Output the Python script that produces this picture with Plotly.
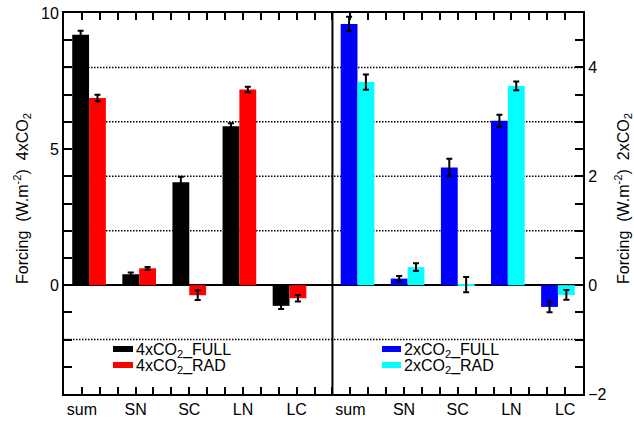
import plotly.graph_objects as go

# ---------------- data ----------------
categories = ["sum", "SN", "SC", "LN", "LC"]

full_4x = [9.2, 0.40, 3.78, 5.84, -0.76]
full_4x_err = [0.15, 0.06, 0.20, 0.11, 0.12]
rad_4x = [6.88, 0.62, -0.37, 7.19, -0.48]
rad_4x_err = [0.12, 0.05, 0.18, 0.10, 0.12]

full_2x = [4.80, 0.12, 2.16, 3.02, -0.40]
full_2x_err = [0.13, 0.05, 0.16, 0.11, 0.10]
rad_2x = [3.73, 0.33, 0.01, 3.66, -0.18]
rad_2x_err = [0.14, 0.07, 0.14, 0.08, 0.09]

series_names = ["4xCO<sub>2</sub>_FULL", "4xCO<sub>2</sub>_RAD",
                "2xCO<sub>2</sub>_FULL", "2xCO<sub>2</sub>_RAD"]
left_ticks = [0, 5, 10]
right_ticks = [-2, 0, 2, 4]
grid_values = [-2, 2, 4, 6, 8]
left_title = "Forcing  (W.m<sup>-2</sup>)  4xCO<sub>2</sub>"
right_title = "Forcing  (W.m<sup>-2</sup>)  2xCO<sub>2</sub>"

# ---------------- layout helpers ----------------
FONT = "Liberation Sans, Arial, Helvetica, sans-serif"
W, H = 634, 423
ML, MR, MT, MB = 64, 51, 13, 29
PW, PH = W - ML - MR, H - MT - MB


def px_x(p):
    return (p - ML) / PW


def px_y(p):
    return (H - MB - p) / PH


n = len(categories)
pitch = 2.8
bar_w = 0.94
left_centers = [1.4 + pitch * i for i in range(n)]
right_centers = [16.4 + pitch * i for i in range(n)]
label_pos = [1 + 3 * i for i in range(n)] + [16 + 3 * i for i in range(n)]

colors = ["#000000", "#ff0000", "#0000ff", "#00ffff"]

fig = go.Figure()


def add_bars(centers, vals, errs, offset, color, yaxis, name):
    fig.add_trace(go.Bar(
        x=[c + offset for c in centers], y=vals, width=bar_w, name=name,
        marker=dict(color=color, line=dict(width=0)),
        error_y=dict(type="data", array=errs, visible=True,
                     color="black", thickness=2, width=3),
        yaxis=yaxis, showlegend=False))


add_bars(left_centers, full_4x, full_4x_err, -bar_w / 2, colors[0], "y", series_names[0])
add_bars(left_centers, rad_4x, rad_4x_err, bar_w / 2, colors[1], "y", series_names[1])
add_bars(right_centers, full_2x, full_2x_err, -bar_w / 2, colors[2], "y2", series_names[2])
add_bars(right_centers, rad_2x, rad_2x_err, bar_w / 2, colors[3], "y2", series_names[3])

# invisible trace so the top tick axis is drawn
fig.add_trace(go.Scatter(x=[None], y=[None], xaxis="x2", yaxis="y",
                         showlegend=False, hoverinfo="skip"))

tick_font = dict(family=FONT, size=16, color="black")
tk = dict(ticklen=7, tickwidth=1.5, tickcolor="black")

shapes = []
# dotted reference lines
for g in grid_values:
    shapes.append(dict(type="line", xref="paper", yref="y", x0=0, x1=1,
                       y0=g, y1=g, layer="below",
                       line=dict(color="black", width=1.5, dash="1.5px,1.5px")))
# panel divider
shapes.append(dict(type="line", xref="x", yref="paper", x0=15, x1=15,
                   y0=0, y1=1, line=dict(color="black", width=2),
                   layer="above"))

annotations = [
    dict(text=left_title, xref="paper", yref="paper", x=px_x(22), y=px_y(199),
         textangle=-90, showarrow=False, xanchor="center", yanchor="middle",
         font=dict(family=FONT, size=16, color="black")),
    dict(text=right_title, xref="paper", yref="paper", x=px_x(623), y=px_y(199),
         textangle=-90, showarrow=False, xanchor="center", yanchor="middle",
         font=dict(family=FONT, size=16, color="black")),
]

# manual legends
legend_rows = [349, 365]
legend_specs = [(113, 133, 134, [0, 1]), (382, 401, 402, [2, 3])]
for sx0, sx1, tx, idxs in legend_specs:
    for row, k in zip(legend_rows, idxs):
        shapes.append(dict(type="rect", xref="paper", yref="paper",
                           x0=px_x(sx0), x1=px_x(sx1),
                           y0=px_y(row + 3), y1=px_y(row - 3),
                           fillcolor=colors[k], line=dict(width=0),
                           layer="above"))
        annotations.append(dict(text=series_names[k], xref="paper", yref="paper",
                                x=px_x(tx), y=px_y(row + 1), showarrow=False,
                                xanchor="left", yanchor="middle",
                                font=dict(family=FONT, size=16, color="black")))

fig.update_layout(
    width=W, height=H,
    margin=dict(l=ML, r=MR, t=MT, b=MB, autoexpand=False),
    paper_bgcolor="white", plot_bgcolor="white",
    barmode="overlay", showlegend=False,
    font=dict(family=FONT, size=16, color="black"),
    xaxis=dict(
        range=[0, 29], tickmode="array", tickvals=label_pos,
        ticktext=categories + categories, tickfont=tick_font,
        ticks="inside", **tk,
        minor=dict(dtick=1, tick0=0, ticks="inside", **tk),
        showline=True, linewidth=2, linecolor="black", mirror=True,
        showgrid=False, zeroline=False, fixedrange=True, automargin=False,
    ),
    xaxis2=dict(
        range=[0, 29], overlaying="x", side="top", anchor="y",
        tickmode="array", tickvals=label_pos, showticklabels=False,
        ticks="inside", **tk,
        minor=dict(dtick=1, tick0=0, ticks="inside", **tk),
        showline=True, linewidth=2, linecolor="black",
        showgrid=False, zeroline=False, automargin=False,
    ),
    yaxis=dict(
        range=[-4, 10], tickmode="array", tickvals=left_ticks,
        tickfont=tick_font, ticks="inside", ticklen=8, tickwidth=1.5,
        tickcolor="black",
        minor=dict(dtick=1, tick0=0, ticks="inside", ticklen=8,
                   tickwidth=1.5, tickcolor="black"),
        showline=True, linewidth=2, linecolor="black",
        showgrid=False, zeroline=True, zerolinewidth=2,
        zerolinecolor="black", automargin=False,
    ),
    yaxis2=dict(
        range=[-2, 5], overlaying="y", side="right", anchor="x",
        tickmode="array", tickvals=right_ticks, tickfont=tick_font,
        ticks="inside", ticklen=8, tickwidth=1.5, tickcolor="black",
        minor=dict(dtick=0.5, tick0=0, ticks="inside", ticklen=8,
                   tickwidth=1.5, tickcolor="black"),
        showline=True, linewidth=2, linecolor="black",
        showgrid=False, zeroline=False, automargin=False,
    ),
    shapes=shapes,
    annotations=annotations,
)

fig.write_html("out.html", config={"displayModeBar": False},
               post_script="document.body.style.margin='0';"
                           "document.body.style.padding='0';")
